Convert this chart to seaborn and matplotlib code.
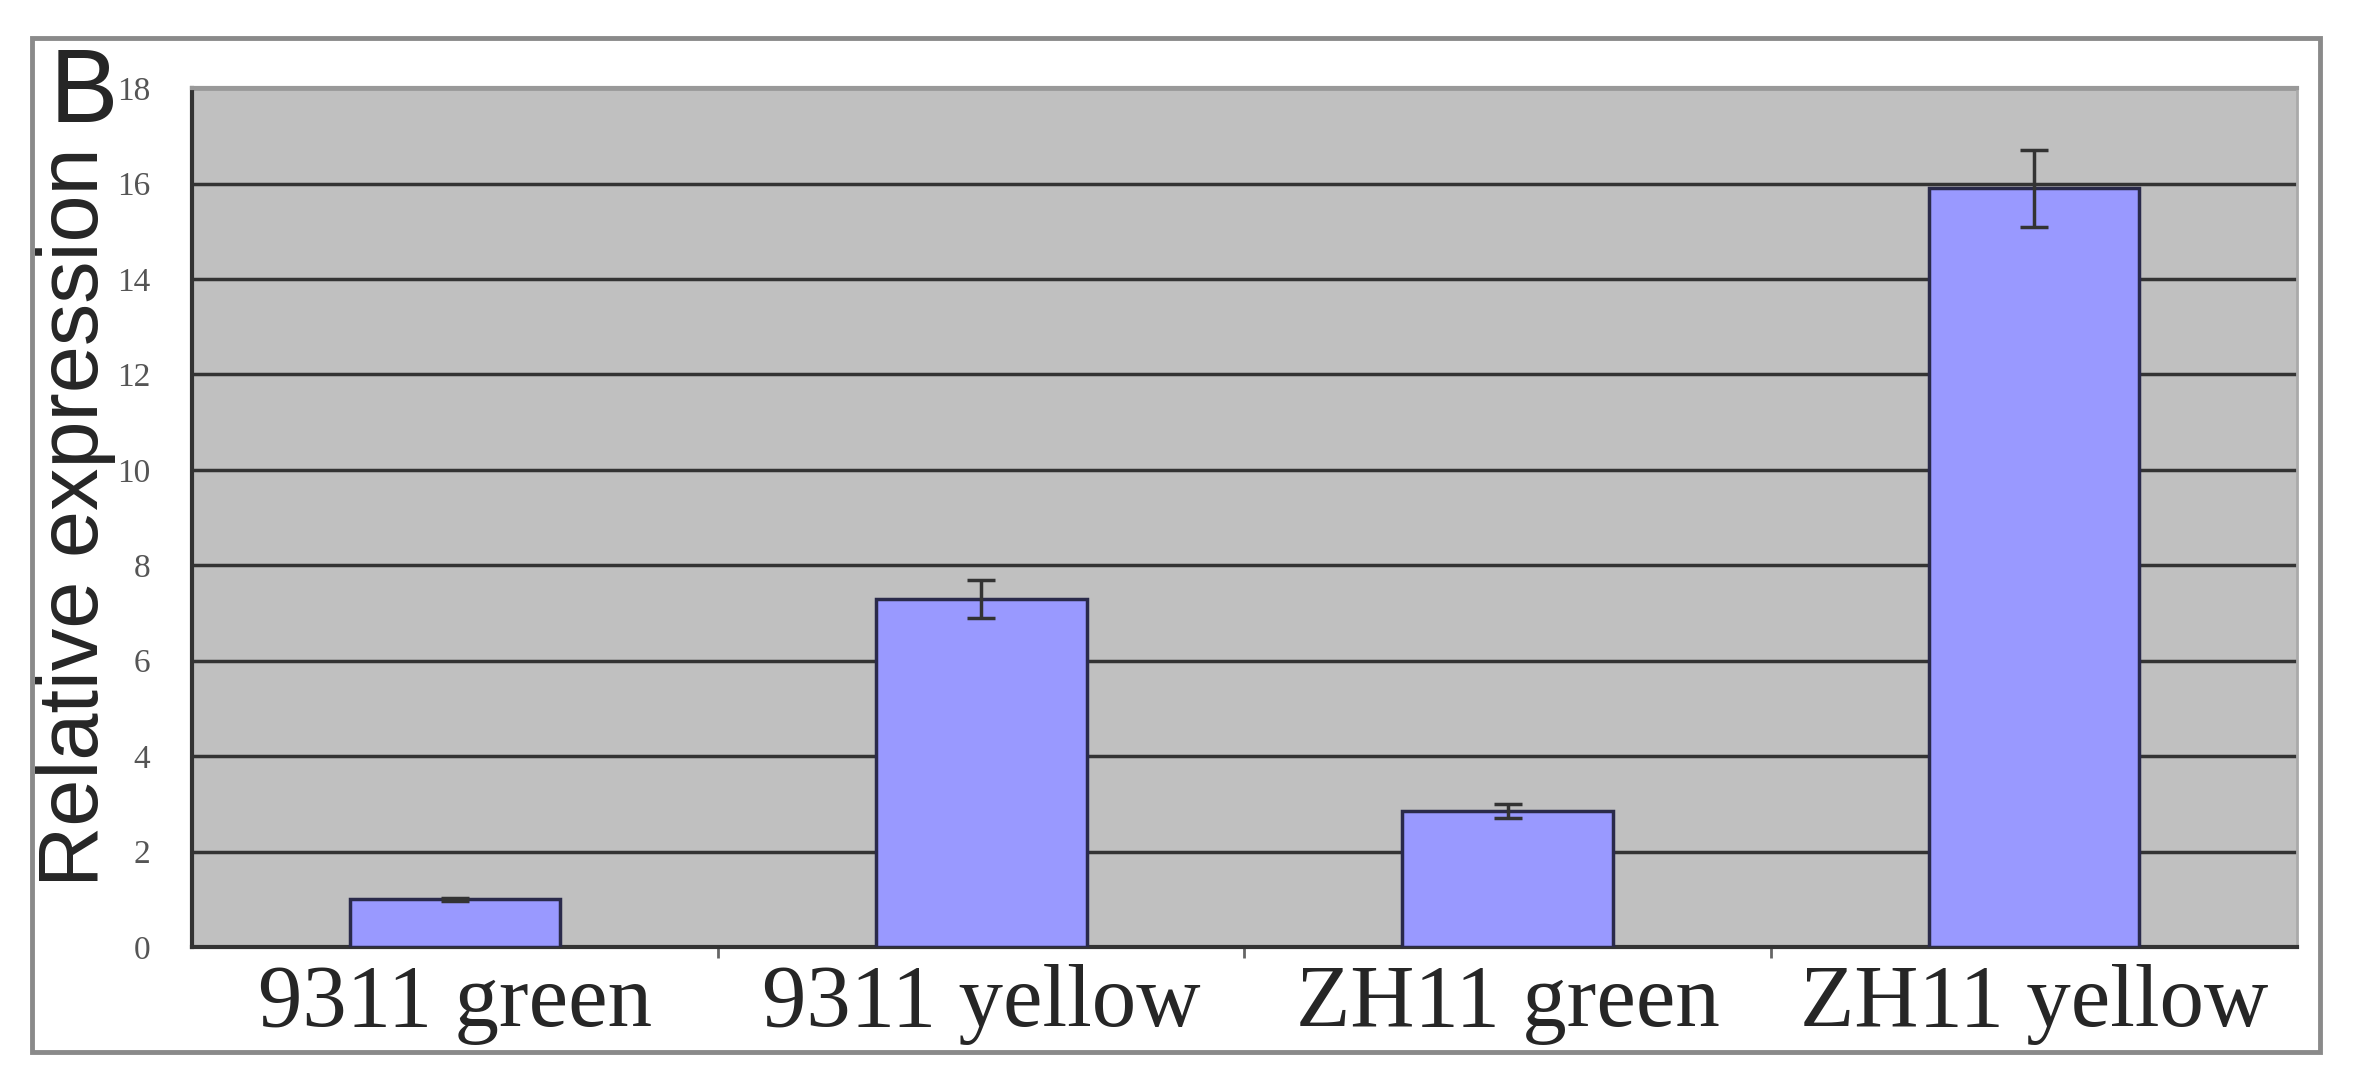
import matplotlib
matplotlib.use('Agg')
import matplotlib.pyplot as plt
import matplotlib.patches as mpatches
import seaborn as sns
import pandas as pd
import numpy as np

# values
samples = ['9311 green', '9311 yellow', 'ZH11 green', 'ZH11 yellow']
expression = [1.0, 7.3, 2.85, 15.9]
errors = [0.03, 0.4, 0.15, 0.8]
yticks = [0, 2, 4, 6, 8, 10, 12, 14, 16, 18]

df = pd.DataFrame({'sample': samples, 'expression': expression})

sns.set_style('white')

fig = plt.figure(figsize=(23.57, 10.79), dpi=100)
ax = fig.add_axes([0.0815, 0.1223, 0.893, 0.796])

sns.barplot(data=df, x='sample', y='expression', color='#9999ff',
            saturation=1, width=0.4, edgecolor='#2a2a4a', linewidth=2.5,
            errorbar=None, ax=ax, zorder=3)

# error bars at the bar centres
centers = [p.get_x() + p.get_width() / 2 for p in ax.patches]
ax.errorbar(centers, expression, yerr=errors, fmt='none', ecolor='#333333',
            elinewidth=2.5, capsize=10, capthick=2.5, zorder=4)

ax.set_facecolor('#c0c0c0')
ax.set_ylim(0, 18)
ax.set_xlim(-0.5, 3.5)
ax.set_yticks(yticks)
ax.set_yticklabels([str(t) for t in yticks], family='Liberation Serif',
                   fontsize=24, color='#555555')
ax.yaxis.grid(True, color='#333333', linewidth=2.5, zorder=0)
ax.set_axisbelow(True)

ax.set_xticks(range(len(samples)))
ax.set_xticklabels(samples, family='Liberation Serif', fontsize=64)
ax.set_xticks([0.5, 1.5, 2.5], minor=True)
ax.tick_params(axis='x', which='both', bottom=True)
ax.tick_params(axis='x', which='major', length=0, pad=12)
ax.tick_params(axis='x', which='minor', length=8, width=2, color='#666666')
ax.tick_params(axis='y', length=0, pad=30)

ax.set_xlabel('')
ax.set_ylabel('Relative expression', family='Liberation Sans', fontsize=61,
              labelpad=1)

for side in ['left', 'bottom']:
    ax.spines[side].set_color('#333333')
    ax.spines[side].set_linewidth(3)
ax.spines['top'].set_color('#999999')
ax.spines['top'].set_linewidth(3)
ax.spines['right'].set_color('#aaaaaa')
ax.spines['right'].set_linewidth(2)

# panel letter and outer frame
fig.text(0.021, 0.887, 'B', family='Liberation Sans', fontsize=74)
frame = mpatches.Rectangle((32 / 2357, 1 - 1052 / 1079), (2320 - 32) / 2357,
                           (1052 - 38) / 1079, transform=fig.transFigure,
                           fill=False, edgecolor='#8a8a8a', linewidth=3.5)
fig.patches.append(frame)

fig.savefig('out.png', dpi=100)
